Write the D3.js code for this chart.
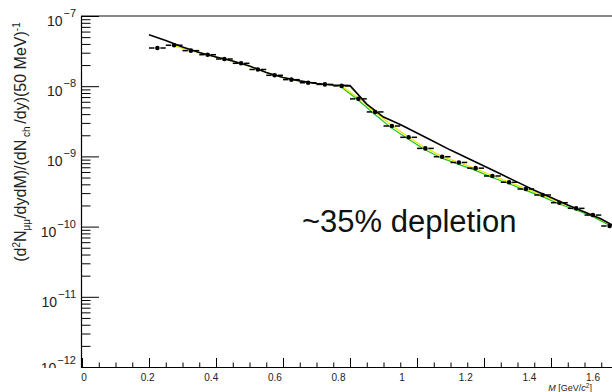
<!DOCTYPE html>
<html>
<head>
<meta charset="utf-8">
<script src="https://cdn.jsdelivr.net/npm/d3@7"></script>
<style>
  body { margin: 0; background: #fff; }
  svg { display: block; font-family: 'Liberation Sans', Arial, sans-serif; }
</style>
</head>
<body>
<div id="chart"></div>
<script>
// measured dimuon yield, 50 MeV bins
let massBins = [0.225, 0.275, 0.325, 0.375, 0.425, 0.475, 0.525, 0.575, 0.625, 0.675,
  0.725, 0.775, 0.825, 0.875, 0.925, 0.975, 1.025, 1.075, 1.125, 1.175,
  1.225, 1.275, 1.325, 1.375, 1.425, 1.475, 1.525, 1.575]
let yieldData = [3.5e-8, 3.83e-8, 3.21e-8, 2.81e-8, 2.44e-8, 2.12e-8, 1.73e-8, 1.43e-8, 1.24e-8, 1.12e-8,
  1.06e-8, 1.01e-8, 6.6e-9, 4.3e-9, 2.71e-9, 1.87e-9, 1.3e-9, 9.9e-10, 8.2e-10, 6.8e-10,
  5.26e-10, 4.28e-10, 3.43e-10, 2.82e-10, 2.19e-10, 1.82e-10, 1.46e-10, 1.02e-10]

// reference curve without depletion (black)
let modelMass = [0.2, 0.25, 0.3, 0.35, 0.4, 0.45, 0.5, 0.55, 0.6, 0.65, 0.7, 0.75, 0.8,
  0.85, 0.9, 0.95, 1.0, 1.05, 1.1, 1.15, 1.2, 1.25, 1.3, 1.35, 1.4, 1.45, 1.5, 1.55, 1.6]
let modelFree = [5.42e-8, 4.48e-8, 3.61e-8, 3.02e-8, 2.61e-8, 2.28e-8, 1.94e-8, 1.57e-8, 1.33e-8,
  1.19e-8, 1.09e-8, 1.04e-8, 1.02e-8, 5.57e-9, 3.64e-9, 2.85e-9, 2.15e-9, 1.63e-9, 1.23e-9,
  9.5e-10, 7.3e-10, 5.6e-10, 4.3e-10, 3.3e-10, 2.6e-10, 2.03e-10, 1.61e-10, 1.28e-10, 9.5e-11]

// depleted curves (yellow, green)
let fitMass = massBins.slice(1)
let fitYellow = [3.75e-8, 3.2e-8, 2.8e-8, 2.44e-8, 2.1e-8, 1.74e-8, 1.44e-8, 1.25e-8, 1.12e-8,
  1.06e-8, 1.0e-8, 6.8e-9, 4.3e-9, 2.75e-9, 1.88e-9, 1.33e-9, 1.0e-9, 8.2e-10, 6.7e-10,
  5.3e-10, 4.3e-10, 3.45e-10, 2.8e-10, 2.2e-10, 1.8e-10, 1.45e-10, 1.1e-10]
let greenMass = massBins.slice(11)
let fitGreen = [1.0e-8, 6.6e-9, 4.1e-9, 2.62e-9, 1.82e-9, 1.28e-9, 9.7e-10, 7.9e-10, 6.5e-10,
  5.15e-10, 4.2e-10, 3.38e-10, 2.75e-10, 2.16e-10, 1.77e-10, 1.43e-10, 1.08e-10]

let xTicks = [0, 0.2, 0.4, 0.6, 0.8, 1, 1.2, 1.4, 1.6]
let yDecades = [-7, -8, -9, -10, -11, -12]

let width = 612
let height = 392
let frameLeft = 81
let frameTop = 16
let frameBottom = 367

let svg = d3
  .select('#chart')
  .append('svg')
  .attr('width', width)
  .attr('height', height)

let x = d3.scaleLinear().domain([0, 1.6]).range([82, 618])
// ROOT draws the labels a little compressed relative to the ticks
let xLabel = d3.scaleLinear().domain([0, 1.6]).range([84, 593])
let y = d3.scaleLog().domain([1e-12, 1e-7]).range([frameBottom, frameTop])

let defs = svg.append('defs')
defs.append('clipPath').attr('id', 'plot-clip')
  .append('rect')
  .attr('x', frameLeft)
  .attr('y', frameTop)
  .attr('width', width - frameLeft)
  .attr('height', frameBottom - frameTop)

let plot = svg.append('g').attr('clip-path', 'url(#plot-clip)')

let line = d3
  .line()
  .x(d => x(d[0]))
  .y(d => y(d[1]))

plot
  .append('path')
  .attr('d', line(d3.zip(greenMass, fitGreen)))
  .attr('fill', 'none')
  .attr('stroke', '#1fc21f')
  .attr('stroke-width', 1.2)
  .attr('transform', 'translate(-0.8,0.6)')

plot
  .append('path')
  .attr('d', line(d3.zip(fitMass, fitYellow)))
  .attr('fill', 'none')
  .attr('stroke', '#e6e600')
  .attr('stroke-width', 1.2)

plot
  .append('path')
  .attr('d', line(d3.zip(modelMass, modelFree)))
  .attr('fill', 'none')
  .attr('stroke', '#000')
  .attr('stroke-width', 1.6)

let points = plot
  .selectAll('.point')
  .data(d3.zip(massBins, yieldData))
  .enter()
  .append('g')
  .attr('class', 'point')

points
  .append('line')
  .attr('x1', d => x(d[0] - 0.025))
  .attr('x2', d => x(d[0]) - 3)
  .attr('y1', d => y(d[1]))
  .attr('y2', d => y(d[1]))
  .attr('stroke', '#000')
  .attr('stroke-width', 1.5)

points
  .append('line')
  .attr('x1', d => x(d[0]) + 3)
  .attr('x2', d => x(d[0] + 0.025))
  .attr('y1', d => y(d[1]))
  .attr('y2', d => y(d[1]))
  .attr('stroke', '#000')
  .attr('stroke-width', 1.5)

points
  .append('circle')
  .attr('cx', d => x(d[0]))
  .attr('cy', d => y(d[1]))
  .attr('r', 2.3)
  .attr('fill', '#000')

// top frame
svg
  .append('line')
  .attr('x1', frameLeft)
  .attr('x2', width)
  .attr('y1', frameTop)
  .attr('y2', frameTop)
  .attr('stroke', '#888')
  .attr('stroke-width', 2)

// x axis
let xMinor = d3.range(0, 1.65, 0.05)
let xAxis = d3
  .axisTop(x)
  .tickValues(xMinor)
  .tickSize(4.5)
  .tickFormat('')
svg
  .append('g')
  .attr('class', 'axis x-minor')
  .attr('transform', 'translate(0,' + frameBottom + ')')
  .call(xAxis)

let xMajor = d3
  .axisTop(x)
  .tickValues(xTicks)
  .tickSize(9)
  .tickFormat('')
svg
  .append('g')
  .attr('class', 'axis x-major')
  .attr('transform', 'translate(0,' + frameBottom + ')')
  .call(xMajor)

svg.selectAll('.x-minor .domain, .x-major .domain').remove()
svg
  .append('line')
  .attr('x1', frameLeft)
  .attr('x2', width)
  .attr('y1', frameBottom + 0.5)
  .attr('y2', frameBottom + 0.5)
  .attr('stroke', '#000')
  .attr('stroke-width', 1.2)

svg
  .selectAll('.x-label')
  .data(xTicks)
  .enter()
  .append('text')
  .attr('class', 'x-label')
  .attr('x', d => xLabel(d))
  .attr('y', 381)
  .attr('text-anchor', 'middle')
  .attr('font-size', 10)
  .attr('fill', '#222')
  .text(d => d3.format('')(d))

let xTitle = svg
  .append('text')
  .attr('x', 592)
  .attr('y', 391)
  .attr('text-anchor', 'end')
  .attr('font-size', 9)
  .attr('fill', '#222')
xTitle.append('tspan').attr('font-style', 'italic').text('M')
xTitle.append('tspan').text(' [GeV/')
xTitle.append('tspan').attr('font-style', 'italic').text('c')
xTitle.append('tspan').attr('font-size', 6.5).attr('dy', -3.5).text('2')
xTitle.append('tspan').attr('dy', 3.5).text(']')

// y axis
let yMinor = []
yDecades.forEach(p => {
  if (p === -7) return
  d3.range(2, 10).forEach(m => yMinor.push(m * Math.pow(10, p)))
})
let yAxisMinor = d3
  .axisLeft(y)
  .tickValues(yMinor)
  .tickSize(-9.5)
  .tickFormat('')
svg
  .append('g')
  .attr('class', 'axis y-minor')
  .attr('transform', 'translate(' + frameLeft + ',0)')
  .call(yAxisMinor)

let yAxisMajor = d3
  .axisLeft(y)
  .tickValues(yDecades.map(p => Math.pow(10, p)))
  .tickSize(-18)
  .tickFormat('')
svg
  .append('g')
  .attr('class', 'axis y-major')
  .attr('transform', 'translate(' + frameLeft + ',0)')
  .call(yAxisMajor)

svg.selectAll('.y-minor .domain').remove()
svg.selectAll('.y-major .domain').attr('stroke-width', 1.2)
svg.selectAll('.axis .tick line').attr('stroke-width', 1)

defs.append('clipPath').attr('id', 'label-clip')
  .append('rect')
  .attr('x', 0)
  .attr('y', 0)
  .attr('width', frameLeft)
  .attr('height', frameBottom + 1)

let yLabels = svg
  .append('g')
  .attr('clip-path', 'url(#label-clip)')
  .selectAll('.y-label')
  .data(yDecades)
  .enter()
  .append('text')
  .attr('class', 'y-label')
  .attr('x', 76)
  .attr('y', d => y(Math.pow(10, d)) + (d === -12 ? 6 : 10))
  .attr('text-anchor', 'end')
  .attr('fill', '#222')
yLabels.append('tspan').attr('font-size', 14).text('10')
yLabels
  .append('tspan')
  .attr('font-size', 11)
  .attr('dx', 1)
  .attr('dy', -9)
  .text(d => '\u2212' + Math.abs(d))

let yTitle = svg
  .append('text')
  .attr('transform', 'translate(26,142) rotate(-90)')
  .attr('text-anchor', 'middle')
  .attr('font-size', 16)
  .attr('fill', '#222')
yTitle.append('tspan').text('(d')
yTitle.append('tspan').attr('font-size', 10).attr('dy', -6).text('2')
yTitle.append('tspan').attr('dy', 6).text('N')
yTitle.append('tspan').attr('font-size', 10).attr('dy', 4).text('\u03bc\u03bc')
yTitle.append('tspan').attr('dy', -4).text('/dydM)/(dN')
yTitle.append('tspan').attr('font-size', 10).attr('dy', 4).text(' ch ')
yTitle.append('tspan').attr('dy', -4).text('/dy)(50 MeV)')
yTitle.append('tspan').attr('font-size', 10).attr('dy', -6).text('-1')

svg
  .append('text')
  .attr('x', 302)
  .attr('y', 232)
  .attr('font-size', 31)
  .attr('fill', '#111')
  .text('~35% depletion')
</script>
</body>
</html>
